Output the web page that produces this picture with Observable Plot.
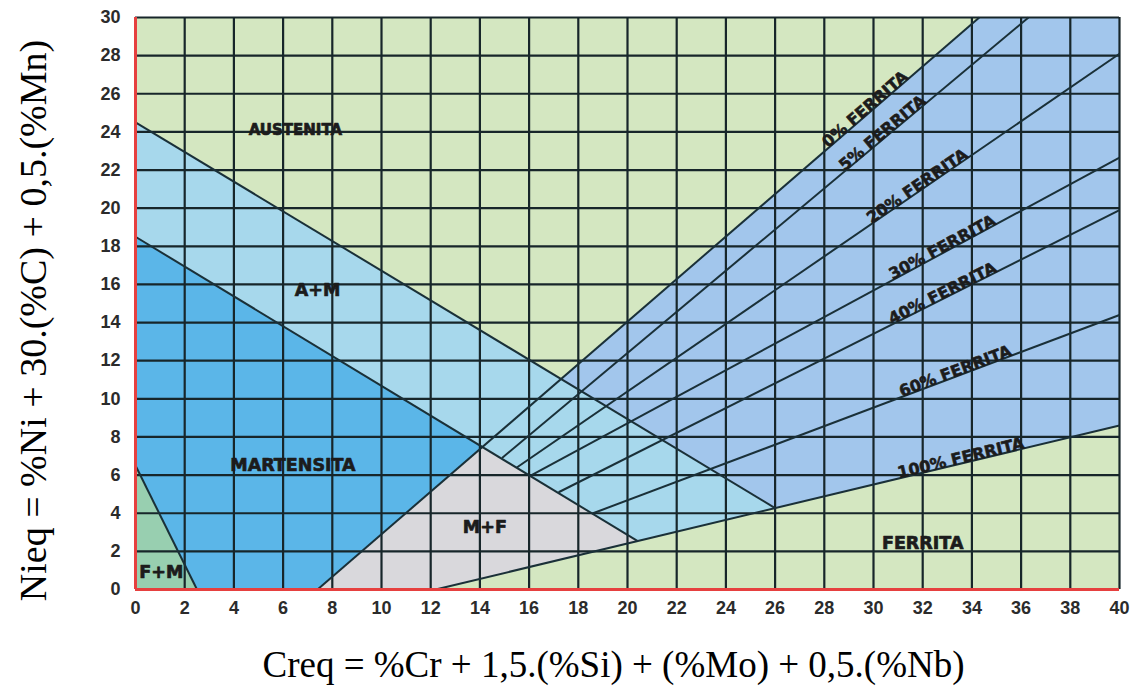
<!DOCTYPE html>
<html><head><meta charset="utf-8">
<script src="https://cdn.jsdelivr.net/npm/d3@7"></script>
<script src="https://cdn.jsdelivr.net/npm/@observablehq/plot@0.6"></script>
<style>
html,body{margin:0;padding:0;background:#fff;}
g[aria-label="ferrite labels"] text{letter-spacing:1.8px}
g[aria-label="region labels"] text{letter-spacing:1.2px}
g[aria-label="austenita label"] text{letter-spacing:1px}
g[aria-label="x-axis tick label"], g[aria-label="y-axis tick label"]{font-size:18px !important;font-weight:bold;font-family:"Liberation Sans",sans-serif}
</style>
</head><body><div id="chart"></div>
<script>
// ---------- data ----------
const xTicks = d3.range(0, 41, 2);
const yTicks = d3.range(0, 31, 2);

const ferriteNames  = ["0% FERRITA","5% FERRITA","20% FERRITA","30% FERRITA","40% FERRITA","60% FERRITA","100% FERRITA"];
const ferriteStartX = [7.4, 14.9, 15.5, 16.1, 17.2, 18.6, 12.2];
const ferriteStartY = [0,   6.9,  6.4,  6.0,  5.1,  4.0,  0];
const ferriteEndX   = [34.3, 36.3, 40, 40, 40, 40, 40];
const ferriteEndY   = [30,   30,   28.1, 22.65, 19.9, 14.4, 8.6];
const ferriteLabelX = [29.8, 30.5, 31.9, 32.9, 32.9, 33.4, 33.6];

const boundaryStartX = [0, 0, 0];
const boundaryStartY = [24.5, 18.5, 6.5];
const boundaryEndX   = [26, 20.4, 2.5];
const boundaryEndY   = [4.27, 2.55, 0];

const regionNames = ["A+M", "A+F", "M", "F+M", "M+F"];
const regionX = [[0, 26, 20.4, 14.15, 0], [17.3, 34.3, 40, 40, 26], [0, 14.15, 7.4, 2.5, 0], [0, 2.5, 0], [7.4, 14.15, 20.4, 12.2]];
const regionY = [[24.5, 4.27, 2.55, 7.48, 18.5], [11.04, 30, 30, 8.6, 4.27], [18.5, 7.48, 0, 0, 6.5], [6.5, 0, 0], [0, 7.48, 2.55, 0]];
const regionColors = ["#a7d8ec", "#a2c6ec", "#5bb6e8", "#98cfb0", "#d9d8dc"];

const labelNames = ["A+M", "MARTENSITA", "F+M", "M+F", "FERRITA"];
const labelX = [7.4, 6.4, 1.05, 14.2, 32.0];
const labelY = [15.7, 6.5, 0.9, 3.25, 2.4];
const austenitaX = 6.5, austenitaY = 24.1;

// ---------- layout ----------
const W = 1137, H = 687, ML = 135, MR = 18, MT = 17, MB = 98;
const sx = (W - ML - MR) / 40, sy = (H - MT - MB) / 30;
const GREEN = "#d4e7c1", GRID = "#17262a", RED = "#e6403f", INK = "#1c1c1c";

const ferr = ferriteNames.map((name, i) => {
  const slope = (ferriteEndY[i] - ferriteStartY[i]) / (ferriteEndX[i] - ferriteStartX[i]);
  return {
    name, x1: ferriteStartX[i], y1: ferriteStartY[i], x2: ferriteEndX[i], y2: ferriteEndY[i],
    lx: ferriteLabelX[i],
    ly: ferriteStartY[i] + slope * (ferriteLabelX[i] - ferriteStartX[i]),
    angle: -Math.atan(slope * sy / sx) * 180 / Math.PI
  };
});
const bounds = boundaryStartX.map((d, i) => ({x1: d, y1: boundaryStartY[i], x2: boundaryEndX[i], y2: boundaryEndY[i]}));
const labels = labelNames.map((t, i) => ({t, x: labelX[i], y: labelY[i]}));

const marks = [Plot.frame({fill: GREEN, stroke: null})];
regionNames.forEach((r, i) => {
  const pts = regionX[i].map((x, j) => ({x, y: regionY[i][j]}));
  marks.push(Plot.line(pts, {x: "x", y: "y", fill: regionColors[i], stroke: "none", curve: "linear-closed"}));
});
marks.push(
  Plot.ruleX(xTicks.filter(d => d > 0 && d < 40), {stroke: GRID, strokeWidth: 2.2}),
  Plot.ruleY(yTicks.filter(d => d > 0 && d < 30), {stroke: GRID, strokeWidth: 2.2}),
  Plot.ruleY([30], {stroke: GRID, strokeWidth: 2.2}),
  Plot.ruleX([40], {stroke: GRID, strokeWidth: 2.2}),
  Plot.link(ferr, {x1: "x1", y1: "y1", x2: "x2", y2: "y2", stroke: "#1a3038", strokeWidth: 2}),
  Plot.link(bounds, {x1: "x1", y1: "y1", x2: "x2", y2: "y2", stroke: "#1a3038", strokeWidth: 2}),
  Plot.ruleX([0], {stroke: RED, strokeWidth: 3}),
  Plot.ruleY([0], {stroke: RED, strokeWidth: 3}),
  Plot.text(ferr, {x: "lx", y: "ly", text: "name", rotate: "angle", textAnchor: "middle", lineAnchor: "bottom",
    fontFamily: "DejaVu Sans", fontWeight: "bold", fontSize: 16, fill: INK, stroke: INK, strokeWidth: 0.6,
    ariaLabel: "ferrite labels"}),
  Plot.text(labels, {x: "x", y: "y", text: "t", fontFamily: "DejaVu Sans", fontWeight: "bold", fontSize: 17.5,
    fill: INK, stroke: INK, strokeWidth: 0.7, ariaLabel: "region labels"}),
  Plot.text(["AUSTENITA"], {x: austenitaX, y: austenitaY, fontFamily: "DejaVu Sans", fontWeight: "bold", fontSize: 15,
    fill: INK, stroke: INK, strokeWidth: 0.7, ariaLabel: "austenita label"}),
  Plot.axisX({ticks: xTicks, tickSize: 0, tickPadding: 12, fontSize: 18, fontWeight: "bold",
    fontFamily: "Liberation Sans", fill: "#2b2b2b", stroke: "#2b2b2b", strokeWidth: 0.9, label: null}),
  Plot.axisY({ticks: yTicks, tickSize: 0, tickPadding: 15, fontSize: 18, fontWeight: "bold",
    fontFamily: "Liberation Sans", fill: "#2b2b2b", stroke: "#2b2b2b", strokeWidth: 0.9, label: null}),
  Plot.text(["Nieq = %Ni + 30.(%C) + 0,5.(%Mn)"], {frameAnchor: "left", dx: -102, dy: 17, rotate: -90,
    textAnchor: "middle", lineAnchor: "middle", fontFamily: "Liberation Serif", fontSize: 38, fill: "#000"}),
  Plot.text(["Creq = %Cr + 1,5.(%Si) + (%Mo) + 0,5.(%Nb)"], {frameAnchor: "bottom", dx: -14, dy: 76,
    textAnchor: "middle", lineAnchor: "middle", fontFamily: "Liberation Serif", fontSize: 37, fill: "#000"})
);

const chart = Plot.plot({
  width: W, height: H, marginLeft: ML, marginRight: MR, marginTop: MT, marginBottom: MB,
  x: {domain: [0, 40]}, y: {domain: [0, 30]},
  style: {background: "#fff", overflow: "visible"},
  marks
});
document.getElementById("chart").appendChild(chart);
</script>
</body></html>
